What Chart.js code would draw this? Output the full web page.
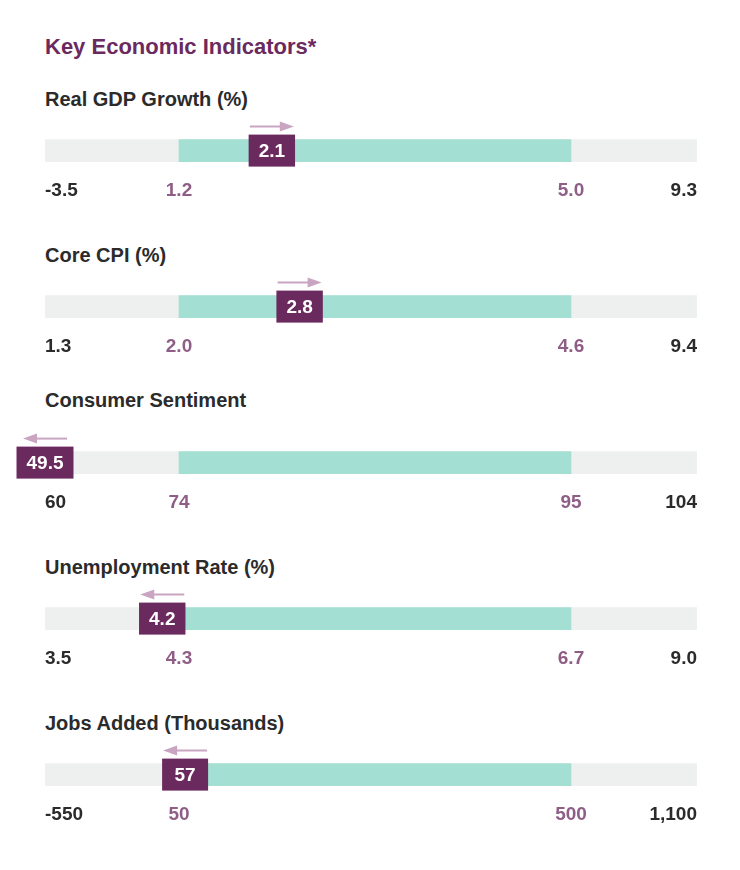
<!DOCTYPE html>
<html>
<head>
<meta charset="utf-8">
<script src="https://cdn.jsdelivr.net/npm/chart.js@4.4.1/dist/chart.umd.min.js"></script>
<style>
  body { margin: 0; background: #fff; font-family: "Liberation Sans", Arial, sans-serif; }
  #page { position: relative; width: 740px; height: 870px; }
  h1 { position: absolute; left: 45px; top: 36px; margin: 0; font-size: 22px; font-weight: bold; color: #6b2a5e; line-height: 1; }
  .panel-title { position: absolute; left: 45px; margin: 0; font-size: 20px; font-weight: bold; color: #2b2b2b; line-height: 1; }
  .panel-chart { position: absolute; left: 0; width: 740px; height: 100px; }
</style>
</head>
<body>
<div id="page">
  <h1>Key Economic Indicators*</h1>
</div>
<script>
// indicator data
const indicators = ["Real GDP Growth (%)", "Core CPI (%)", "Consumer Sentiment", "Unemployment Rate (%)", "Jobs Added (Thousands)"];
const rangeMin = [-3.5, 1.3, 60, 3.5, -550];
const rangeLow = [1.2, 2.0, 74, 4.3, 50];
const rangeHigh = [5.0, 4.6, 95, 6.7, 500];
const rangeMax = [9.3, 9.4, 104, 9.0, 1100];
const latest = [2.1, 2.8, 49.5, 4.2, 57];
const latestLabels = ["2.1", "2.8", "49.5", "4.2", "57"];
const trend = ["up", "up", "down", "down", "down"];
const tickLabels = [
    ["-3.5", "1.2", "5.0", "9.3"],
    ["1.3", "2.0", "4.6", "9.4"],
    ["60", "74", "95", "104"],
    ["3.5", "4.3", "6.7", "9.0"],
    ["-550", "50", "500", "1,100"]
];

const GRAY = "#eef0ef";
const TEAL = "#a3dfd3";
const PLUM = "#6b2a5e";
const MAUVE = "#8f5e86";
const ARROW = "#c9a5c2";
const DARK = "#2b2b2b";

// linear scale that is stretched piece by piece between the breakpoints
class PiecewiseScale extends Chart.LinearScale {
    getPixelForValue(value) {
        const b = this.options.breaks;
        const f = this.options.fractions;
        let i = 0;
        while (i < b.length - 2 && value > b[i + 1]) i++;
        const t = (value - b[i]) / (b[i + 1] - b[i]);
        return this.getPixelForDecimal(f[i] + t * (f[i + 1] - f[i]));
    }
}
PiecewiseScale.id = "piecewise";
PiecewiseScale.defaults = Chart.LinearScale.defaults;
Chart.register(PiecewiseScale);

const markerPlugin = {
    id: "marker",
    afterDatasetsDraw(chart) {
        const o = chart.options.plugins.marker;
        const x = chart.scales.x;
        const bar = chart.getDatasetMeta(0).data[0];
        const v = Math.min(x.max, Math.max(x.min, o.value));
        const cx = x.getPixelForValue(v);
        const cy = bar.y;
        const ctx = chart.ctx;
        ctx.save();
        ctx.font = "bold 19px 'Liberation Sans', Arial, sans-serif";
        const w = Math.max(46, ctx.measureText(o.label).width + 20);
        const h = 32;
        ctx.fillStyle = PLUM;
        ctx.fillRect(cx - w / 2, cy - h / 2, w, h);
        ctx.fillStyle = "#fff";
        ctx.textAlign = "center";
        ctx.textBaseline = "middle";
        ctx.fillText(o.label, cx, cy + 1);

        // trend arrow
        const ay = cy - 24;
        const half = 22;
        const dir = o.trend === "up" ? 1 : -1;
        const tip = cx + dir * half;
        ctx.strokeStyle = ARROW;
        ctx.fillStyle = ARROW;
        ctx.lineWidth = 2;
        ctx.beginPath();
        ctx.moveTo(cx - dir * half, ay);
        ctx.lineTo(tip - dir * 12, ay);
        ctx.stroke();
        ctx.beginPath();
        ctx.moveTo(tip, ay);
        ctx.lineTo(tip - dir * 14, ay - 5);
        ctx.lineTo(tip - dir * 14, ay + 5);
        ctx.closePath();
        ctx.fill();
        ctx.restore();
    }
};

const page = document.getElementById("page");

indicators.forEach((name, i) => {
    const top = 156 * i;
    const title = document.createElement("div");
    title.className = "panel-title";
    title.textContent = name;
    title.style.top = (89 + top - (i === 2 ? 11 : 0)) + "px";
    page.appendChild(title);

    const holder = document.createElement("div");
    holder.className = "panel-chart";
    holder.style.top = (105 + top) + "px";
    const canvas = document.createElement("canvas");
    holder.appendChild(canvas);
    page.appendChild(holder);

    const breaks = [rangeMin[i], rangeLow[i], rangeHigh[i], rangeMax[i]];

    new Chart(canvas, {
        type: "bar",
        data: {
            labels: [name],
            datasets: [
                { data: [[rangeLow[i], rangeHigh[i]]], backgroundColor: TEAL, order: 0 },
                { data: [[rangeMin[i], rangeMax[i]]], backgroundColor: GRAY, order: 1 }
            ]
        },
        options: {
            indexAxis: "y",
            responsive: true,
            maintainAspectRatio: false,
            animation: false,
            events: [],
            datasets: { bar: { grouped: false, barThickness: 22, borderWidth: 0 } },
            layout: { padding: { left: 45, right: 43, top: 20, bottom: 0 } },
            plugins: {
                legend: { display: false },
                tooltip: { enabled: false },
                marker: { value: latest[i], label: latestLabels[i], trend: trend[i] }
            },
            scales: {
                y: { display: false },
                x: {
                    type: "piecewise",
                    min: rangeMin[i],
                    max: rangeMax[i],
                    breaks: breaks,
                    fractions: [0, 134 / 652, 526 / 652, 1],
                    afterBuildTicks: (axis) => { axis.ticks = breaks.map(v => ({ value: v })); },
                    grid: { display: false, drawTicks: false },
                    border: { display: false },
                    ticks: {
                        align: "inner",
                        maxRotation: 0,
                        autoSkip: false,
                        padding: 3,
                        font: { family: "'Liberation Sans', Arial, sans-serif", size: 19, weight: "bold" },
                        color: (c) => (c.index === 1 || c.index === 2) ? MAUVE : DARK,
                        callback: (value, index) => tickLabels[i][index]
                    }
                }
            }
        },
        plugins: [markerPlugin]
    });
});
</script>
</body>
</html>
